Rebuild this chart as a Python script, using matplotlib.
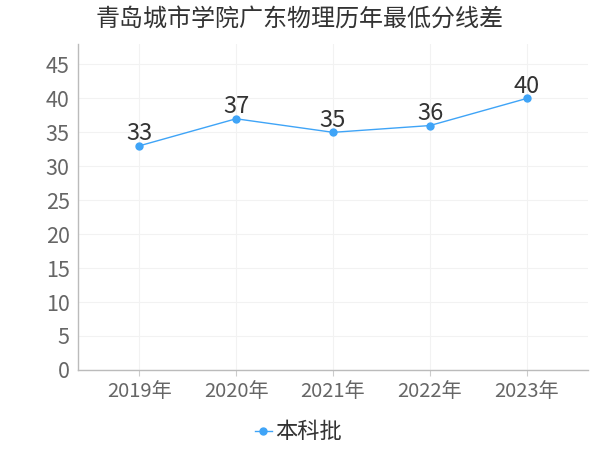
import matplotlib
matplotlib.use("Agg")
import matplotlib.pyplot as plt
from matplotlib.lines import Line2D

plt.rcParams['font.family'] = ['Noto Sans CJK SC', 'DejaVu Sans']

categories = ["2019年", "2020年", "2021年", "2022年", "2023年"]
values = [33, 37, 35, 36, 40]
series_name = "本科批"
title = "青岛城市学院广东物理历年最低分线差"
yticks = [0, 5, 10, 15, 20, 25, 30, 35, 40, 45]

color = "#3fa4f7"

fig = plt.figure(figsize=(6, 4.5), dpi=100)
ax = fig.add_axes([0.13, 0.178, 0.85, 0.724])

x = list(range(len(categories)))
ax.plot(x, values, color=color, lw=1.0, marker='o', ms=5, zorder=3)
for xi, v in zip(x, values):
    ax.annotate(str(v), (xi, v), xytext=(0, 0.5), textcoords='offset points',
                ha='center', va='bottom', fontsize=17, color='#333333')

ax.set_xlim(-0.63, 4.63)
ax.set_ylim(0, 48)
ax.set_yticks(yticks)
ax.set_xticks(x)
ax.set_xticklabels(categories)
ax.tick_params(axis='y', length=0, labelsize=15.5, labelcolor='#666666', pad=6)
ax.tick_params(axis='x', length=4, color='#cccccc', labelsize=14.5, labelcolor='#666666', pad=4)
ax.grid(True, color='#f2f2f2', lw=0.8)
ax.set_axisbelow(True)
for s in ['top', 'right']:
    ax.spines[s].set_visible(False)
for s in ['left', 'bottom']:
    ax.spines[s].set_color('#bbbbbb')
    ax.spines[s].set_linewidth(1)

fig.text(0.5, 0.958, title, ha='center', va='center', fontsize=17.3, color='#333333')

handle = Line2D([], [], color=color, lw=1.0, marker='o', ms=5)
fig.legend([handle], [series_name], loc='center', bbox_to_anchor=(0.4975, 0.04),
           frameon=False, fontsize=16, handlelength=0.75, handletextpad=0.15,
           labelcolor='#333333')

fig.savefig("out.png", dpi=100)
